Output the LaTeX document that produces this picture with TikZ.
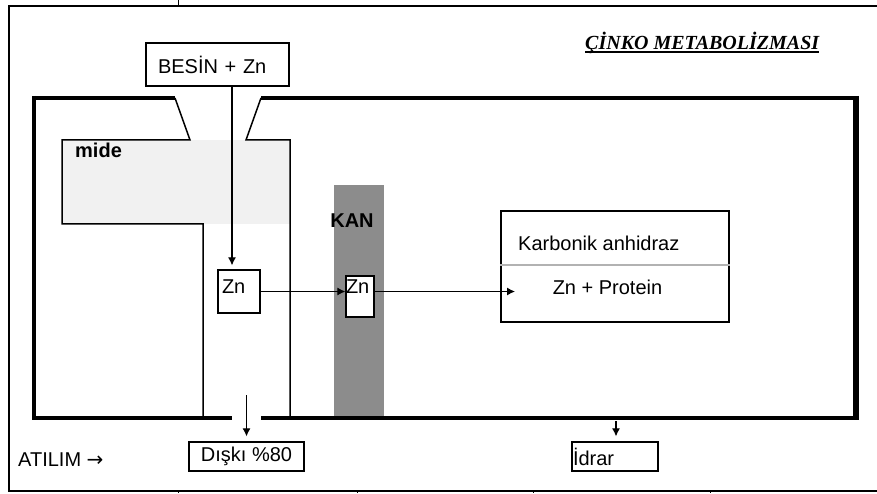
\documentclass[tikz,border=0pt]{standalone}
\usepackage{fontspec}
\setmainfont{Liberation Sans}
\newfontfamily\baslikfont{Liberation Serif}
\newfontfamily\okfont{DejaVu Sans}
\usetikzlibrary{arrows.meta,positioning}

\definecolor{midegri}{HTML}{F1F1F1}
\definecolor{kangri}{HTML}{8C8C8C}

\tikzset{
  kutu/.style={draw, line width=1.3pt, fill=white, inner sep=0pt},
  duvar/.style={line width=3.5pt},
  ince/.style={line width=1.5pt},
  ok/.style={->, line width=1.1pt},
  etiket/.style={inner sep=0pt, font=\fontsize{20}{24}\selectfont\bfseries},
}

\begin{document}
\begin{tikzpicture}[x=1pt, y=1pt, font=\fontsize{20}{24}\selectfont,
    >={Latex[length=8pt,width=8pt]}]
    \useasboundingbox (0,0) rectangle (877,493);

    % Cadre
    \draw[line width=1.3pt] (880,487) -- (9,487) -- (9,2) -- (880,2);
    \draw (178,487) -- (178,493);
    \foreach \x in {178,357,533,710} \draw (\x,2) -- (\x,0);

    % Titre
    \node[anchor=base west, inner sep=0pt,
          font=\fontsize{20}{24}\selectfont\baslikfont\bfseries\itshape]
          (baslik) at (585,443) {ÇİNKO METABOLİZMASI};
    \draw[line width=1.2pt] ([yshift=-2pt]baslik.base west) -- ([yshift=-2pt]baslik.base east);

    % Mide et kan
    \fill[midegri] (62,269) rectangle (290,353);
    \fill[kangri] (334,75) rectangle (384,308);
    \node[etiket, anchor=base west] (mide) at (75,335) {mide};
    \node[etiket, anchor=base] (kan) at (352,265) {KAN};

    % Corps
    \draw[ince] (175,395) -- (190,353) -- (62,353) -- (62,269) -- (203,269) -- (203,75);
    \draw[ince] (261,395) -- (246,353) -- (290,353) -- (290,75);
    \draw[duvar] (175,395) -- (34,395);
    \draw[duvar] (261,395) -- (856,395);
    \draw[duvar] (34,75) -- (232,75);
    \draw[duvar] (261,75) -- (856,75);
    \draw[line width=4.5pt] (34,397) -- (34,73);
    \draw[line width=5.5pt] (856,397) -- (856,73);

    % Boites
    \node[kutu, minimum width=143, minimum height=43, text width=119, align=left]
          (besin) at (217.5,428.5) {BESİN + Zn};
    \node[kutu, minimum width=42, minimum height=43, text width=34, align=left,
          text height=15pt, text depth=12pt] (zna) at (239,201.5) {Zn};
    \node[kutu, minimum width=28, minimum height=41, text width=28, align=left,
          text height=15pt, text depth=22pt] (znb) at (360,196.5) {Zn};
    \node[kutu, minimum width=228, minimum height=111] (karb) at (615,226.5) {};
    \draw[line width=2pt, black!30] ([yshift=-55pt]karb.north west) -- ([yshift=-55pt]karb.north east);
    \node[anchor=base west, inner sep=0pt] (enzim) at (518,243) {Karbonik anhidraz};
    \node[anchor=base, inner sep=0pt] (protein) at (607.5,199) {Zn + Protein};
    \node[kutu, minimum width=115, minimum height=29] (diski) at (246.5,36.5) {Dışkı \%80};
    \node[kutu, minimum width=86, minimum height=29, text width=84, align=left]
          (idrar) at (615,36.5) {İdrar};
    \node[anchor=base west, inner sep=0pt] (atilim) at (18,27) {ATILIM {\okfont →}};

    % Fleches
    \coordinate (giris) at (515,201.5);
    \coordinate (anus) at (246.5,98);
    \coordinate (bobrek) at (616,72);
    \draw[ok, shorten >=4pt] ([xshift=-7pt]zna.north |- besin.south) -- ([xshift=-7pt]zna.north);
    \draw[ok] (zna.east) -- (zna.east -| znb.west);
    \draw[ok] (znb.east |- giris) -- (giris);
    \draw[ok, shorten >=5pt] (anus) -- (diski.north);
    \draw[ok, shorten >=5pt] (bobrek) -- (bobrek |- idrar.north);
\end{tikzpicture}
\end{document}
